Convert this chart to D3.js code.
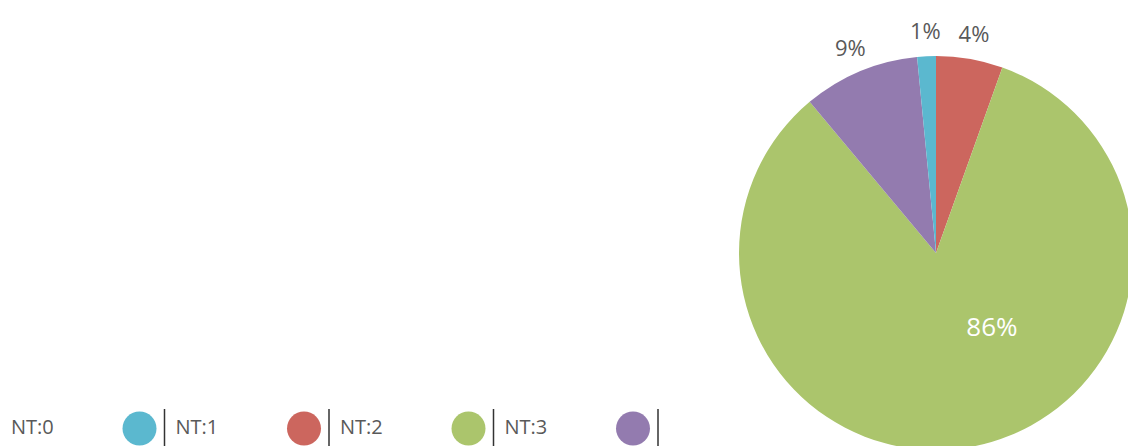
<!DOCTYPE html>
<html>
<head>
<meta charset="utf-8">
<script src="https://cdn.jsdelivr.net/npm/d3@7"></script>
<style>
  html, body { margin: 0; padding: 0; background: #fff; }
  svg { display: block; font-family: "Open Sans", "Noto Sans", sans-serif; }
</style>
</head>
<body>
<svg id="chart" width="1128" height="446"></svg>
<script>
// legend / category order
var categories = ["NT:0", "NT:1", "NT:2", "NT:3"];
var colors     = ["#5bb8cf", "#cc665e", "#abc56c", "#937baf"];
// slice sizes (same order as categories)
var values     = [1.53, 5.47, 83.45, 9.55];
// labels printed on the chart
var labels     = ["1%", "4%", "86%", "9%"];
// drawing order of the slices, clockwise from 12 o'clock
var drawOrder  = [1, 2, 3, 0];

var svg = d3.select("#chart");

var cx = 936, cy = 253, radius = 197;

var slices = drawOrder.map(function(i) {
  return { name: categories[i], value: values[i], color: colors[i], label: labels[i] };
});

var pie = d3.pie().sort(null).value(function(d) { return d.value; });
var arc = d3.arc().innerRadius(0).outerRadius(radius);

var g = svg.append("g").attr("transform", "translate(" + cx + "," + cy + ")");
var arcs = pie(slices);

g.selectAll("path.slice")
  .data(arcs)
  .enter().append("path")
  .attr("class", "slice")
  .attr("d", arc)
  .attr("fill", function(d) { return d.data.color; });

// labels: small slices get a label outside, the big one inside
function labelPos(d) {
  var big = (d.endAngle - d.startAngle) > Math.PI;
  var a, r;
  if (big) {
    a = d.startAngle + 0.41 * (d.endAngle - d.startAngle);
    r = radius * 0.47;
  } else {
    a = (d.startAngle + d.endAngle) / 2;
    r = radius + 25;
  }
  return [Math.sin(a) * r, -Math.cos(a) * r, big];
}

g.selectAll("text.lbl")
  .data(arcs)
  .enter().append("text")
  .attr("class", "lbl")
  .each(function(d) {
    var p = labelPos(d);
    d3.select(this)
      .attr("x", p[0])
      .attr("y", p[1])
      .attr("dy", "0.35em")
      .attr("text-anchor", "middle")
      .attr("fill", p[2] ? "#ffffff" : "#595959")
      .style("font-size", p[2] ? "26px" : "22px")
      .text(d.data.label);
  });

// legend along the bottom
var legendStep = 164.5;
var legend = svg.append("g").attr("transform", "translate(10,0)");
var items = legend.selectAll("g.item")
  .data(categories)
  .enter().append("g")
  .attr("class", "item")
  .attr("transform", function(d, i) { return "translate(" + (i * legendStep) + ",0)"; });

items.append("text")
  .attr("x", 1)
  .attr("y", 434)
  .attr("fill", "#595959")
  .style("font-size", "20px")
  .text(function(d) { return d; });

items.append("circle")
  .attr("cx", 129.5)
  .attr("cy", 428.5)
  .attr("r", 17)
  .attr("fill", function(d, i) { return colors[i]; });

items.append("line")
  .attr("x1", 154.5).attr("x2", 154.5)
  .attr("y1", 409).attr("y2", 446)
  .attr("stroke", "#333")
  .attr("stroke-width", 1.5);
</script>
</body>
</html>
